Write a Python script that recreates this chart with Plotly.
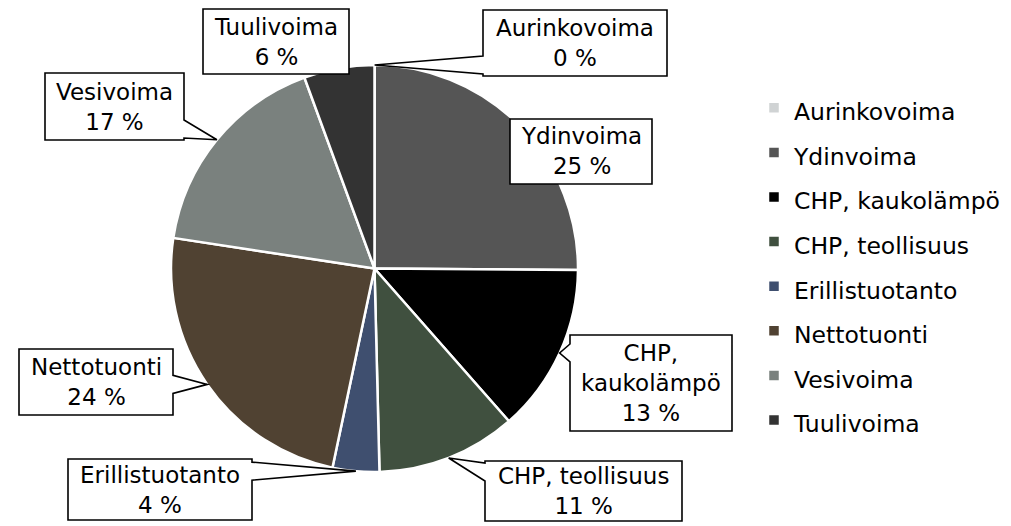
import math
import plotly.graph_objects as go

# ---- data ----
categories = ["Aurinkovoima", "Ydinvoima", "CHP, kaukolämpö", "CHP, teollisuus",
              "Erillistuotanto", "Nettotuonti", "Vesivoima", "Tuulivoima"]
shares = [0.02, 25.1, 13.4, 11.1, 3.7, 24.1, 17.0, 5.6]
label_texts = ["Aurinkovoima", "Ydinvoima", "CHP,<br>kaukolämpö", "CHP, teollisuus",
               "Erillistuotanto", "Nettotuonti", "Vesivoima", "Tuulivoima"]

# ---- style ----
colors = ["#d0d3d4", "#555555", "#000000", "#40503f", "#3f4f6f", "#504232", "#7a817e", "#333333"]
OFF = 8                      # page body margin
W, H = 1011 - OFF, 526 - OFF
FONT = "DejaVu Sans"
cx, cy, R = 374.5, 268.5, 203.5   # page pixels

# label boxes in page pixels (left, top, right, bottom)
boxes = [
    (483, 10, 667, 76),
    (510, 119, 652, 184),
    (570, 335, 732, 431),
    (485, 461, 682, 521),
    (68, 459, 252, 520),
    (19, 349, 173, 415),
    (45, 73, 184, 140),
    (203, 9, 349, 74),
]

def px(x):
    return (x - OFF) / W

def py(y):
    return 1 - (y - OFF) / H

fig = go.Figure(go.Pie(
    labels=[f'<span style="font-size:23.5px">{c}</span>' for c in categories],
    values=shares,
    sort=False,
    direction="clockwise",
    rotation=0,
    marker=dict(colors=colors, line=dict(color="white", width=2.5)),
    textinfo="none",
    hoverinfo="label+percent",
    domain=dict(x=[px(cx - R), px(cx + R)], y=[py(cy + R), py(cy - R)]),
))

total = sum(shares)
shapes = []
annotations = []
cum = 0.0
for i, v in enumerate(shares):
    mid = (cum + v / 2) / total * 2 * math.pi
    cum += v
    tx = cx + R * math.sin(mid)
    ty = cy - R * math.cos(mid)
    L, T, Rt, B = boxes[i]
    hw = 9
    pts = [(L, T), (Rt, T), (Rt, B), (L, B)]
    inside = (L <= tx <= Rt) and (T <= ty <= B)
    if not inside:
        if tx < L:
            c = min(max(ty, T + hw + 2), B - hw - 2)
            pts = [(L, T), (Rt, T), (Rt, B), (L, B), (L, c + hw), (tx, ty), (L, c - hw)]
        elif tx > Rt:
            c = min(max(ty, T + hw + 2), B - hw - 2)
            pts = [(L, T), (Rt, T), (Rt, c - hw), (tx, ty), (Rt, c + hw), (Rt, B), (L, B)]
        elif ty < T:
            c = min(max(tx, L + hw + 2), Rt - hw - 2)
            pts = [(L, T), (c - hw, T), (tx, ty), (c + hw, T), (Rt, T), (Rt, B), (L, B)]
        else:
            c = min(max(tx, L + hw + 2), Rt - hw - 2)
            pts = [(L, T), (Rt, T), (Rt, B), (c + hw, B), (tx, ty), (c - hw, B), (L, B)]
    path = "M " + " L ".join(f"{px(x):.5f},{py(y):.5f}" for x, y in pts) + " Z"
    shapes.append(dict(type="path", xref="paper", yref="paper", path=path,
                       fillcolor="white", line=dict(color="black", width=1.6), layer="above"))
    pct = round(v / total * 100)
    annotations.append(dict(
        x=px((L + Rt) / 2), y=py((T + B) / 2), xref="paper", yref="paper",
        xanchor="center", yanchor="middle", showarrow=False,
        text=f"{label_texts[i]}<br>{pct} %",
        font=dict(family=FONT, size=23, color="black"), align="center",
    ))

fig.update_layout(
    width=W, height=H,
    margin=dict(l=0, r=0, t=0, b=0),
    paper_bgcolor="white", plot_bgcolor="white",
    font=dict(family=FONT, color="black"),
    showlegend=True,
    legend=dict(x=746 / W, xanchor="left", y=1 - 256 / H, yanchor="middle",
                font=dict(family=FONT, size=32, color="black"),
                bgcolor="rgba(0,0,0,0)", traceorder="normal"),
    shapes=shapes,
    annotations=annotations,
)

fig.write_html("out.html")
